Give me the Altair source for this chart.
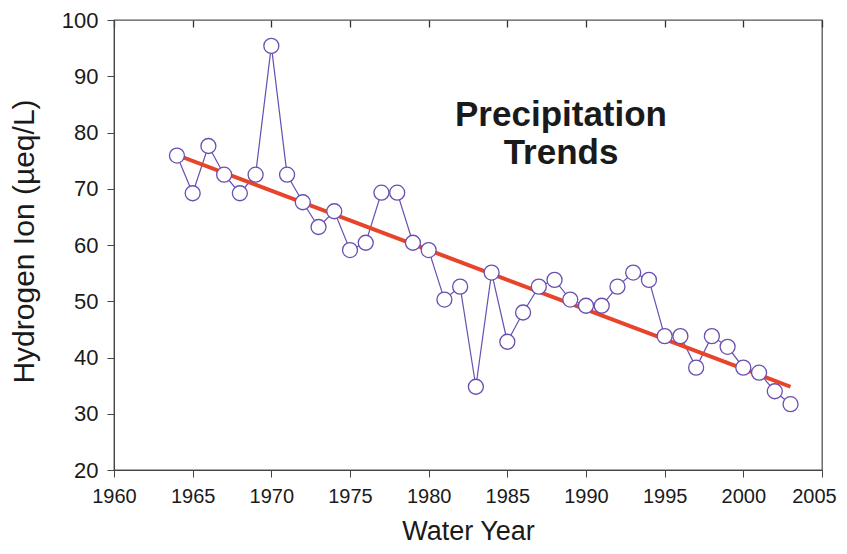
import altair as alt
import pandas as pd

years = list(range(1964, 2004))
hydrogen = [75.9, 69.2, 77.6, 72.5, 69.2, 72.5, 95.4, 72.5, 67.6, 63.2,
            66.0, 59.1, 60.4, 69.3, 69.3, 60.4, 59.1, 50.3, 52.6, 34.8,
            55.1, 42.8, 48.0, 52.6, 53.8, 50.3, 49.2, 49.2, 52.6, 55.1,
            53.8, 43.8, 43.8, 38.2, 43.8, 41.9, 38.2, 37.3, 34.0, 31.7]
trend_years = [1964, 2003]
trend_values = [76.0, 34.8]
x_ticks = list(range(1960, 2006, 5))
y_ticks = list(range(20, 101, 10))

PURPLE = "#6a4fb0"
RED = "#e8432b"
FONT = "Liberation Sans"

df = pd.DataFrame({"year": years, "h": hydrogen})
tf = pd.DataFrame({"year": trend_years, "h": trend_values})

xscale = alt.Scale(domain=[1960, 2005], nice=False, zero=False)
yscale = alt.Scale(domain=[20, 100], nice=False, zero=False)

yenc = alt.Y("h:Q", scale=yscale, axis=alt.Axis(
    values=y_ticks, title="Hydrogen Ion (µeq/L)", titleFontSize=30,
    titleFontWeight="normal", titleFont=FONT, titleColor="#1a1a1a",
    titleX=-81, titleY=221, titleBaseline="alphabetic", titleAngle=270,
    labelFontSize=22, labelFont=FONT, labelColor="#1a1a1a",
    labelPadding=9, tickSize=7, domainColor="#444", tickColor="#444",
    grid=False))

line = alt.Chart(df).mark_line(color=PURPLE, strokeWidth=1.2).encode(
    x=alt.X("year:Q", scale=xscale, axis=alt.Axis(
        values=x_ticks, format="d", title="Water Year", titleFontSize=27,
        titleFontWeight="normal", titleFont=FONT, titleColor="#1a1a1a",
        titleY=69, titleBaseline="alphabetic",
        labelFontSize=20, labelFont=FONT, labelColor="#1a1a1a",
        labelPadding=9, tickSize=7, domainColor="#444", tickColor="#444",
        labelOffset=alt.condition("datum.value == 2005", alt.value(-8), alt.value(0)),
        grid=False, labelFlush=False, labelOverlap=False)),
    y=yenc,
)

trend = alt.Chart(tf).mark_line(color=RED, strokeWidth=4).encode(
    x=alt.X("year:Q", scale=xscale, axis=alt.Axis(
        orient="top", values=x_ticks, labels=False, title=None,
        domain=False, offset=-7, tickSize=7, tickColor="#333",
        tickWidth=1.3, grid=False)),
    y=yenc,
)

points = alt.Chart(df).mark_point(
    shape="circle", filled=True, fill="white", stroke=PURPLE,
    strokeWidth=1.3, size=225, opacity=1, fillOpacity=1).encode(
    x=alt.X("year:Q", scale=xscale, axis=None),
    y=yenc,
)

label_df = pd.DataFrame({"t": ["Precipitation", "Trends"], "py": [106, 144]})
label = alt.Chart(label_df).mark_text(
    font=FONT, fontSize=35, fontWeight="bold", color="#1a1a1a",
    align="center", baseline="alphabetic").encode(
    x=alt.value(447), y=alt.Y("py:Q", scale=None), text="t:N")

chart = alt.layer(line, trend, points, label).resolve_axis(
    x="independent").properties(
    width=708, height=450,
    autosize=alt.AutoSizeParams(type="none"),
    padding={"left": 106, "top": 12, "right": 17, "bottom": 76},
    background="white",
).configure_view(stroke="#555", strokeWidth=1.3)

chart.save("out.html", embed_options={"renderer": "svg", "actions": False})
